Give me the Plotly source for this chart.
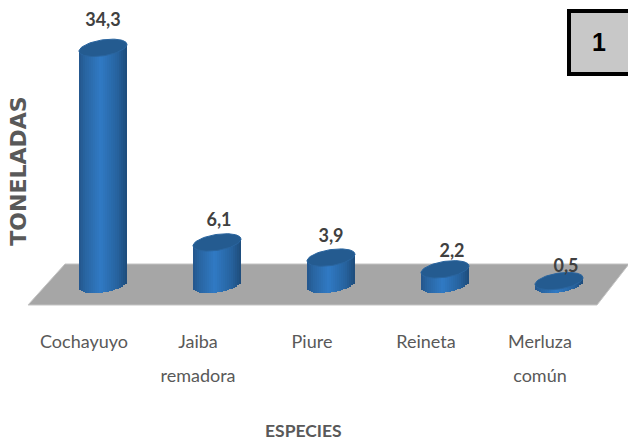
import math
import plotly.graph_objects as go

categories = ["Cochayuyo", "Jaiba<br>remadora", "Piure", "Reineta", "Merluza<br>común"]
toneladas = [34.3, 6.1, 3.9, 2.2, 0.5]
value_labels = ["34,3", "6,1", "3,9", "2,2", "0,5"]

# Layout constants (pixels)
W, H = 628, 443
M_L, M_R, M_T, M_B = 34, 0, 24, 125
X0_PX, STEP_PX = 103.0, 114.0
BASE_PX, PX_PER_UNIT = 284.5, 6.9
R_PX, RY_PX, TILT = 24.0, 8.0, 0.14
STRIP_PX = 2
TICK_SHIFT_PX = -19
LABEL_SHIFT_PX = [0, 2, 0, 7, 7]
LABEL_RAISE_PX = [17, 12, 11, 8, 5]
FONT = "Lato"

xs = list(range(len(categories)))
x_range = [(M_L - X0_PX) / STEP_PX, (W - M_R - X0_PX) / STEP_PX]
y_range = [(BASE_PX - (H - M_B)) / PX_PER_UNIT, (BASE_PX - M_T) / PX_PER_UNIT]
dx = lambda px: px / STEP_PX
dy = lambda px: px / PX_PER_UNIT
px_x = lambda px: (px - M_L) / (W - M_L - M_R)
px_y = lambda py: (H - M_B - py) / (H - M_T - M_B)


def shade(t):
    # t in 0..1 across the cylinder; dark edges, brighter left of centre
    stops = [(0, (36, 86, 140)), (0.12, (40, 100, 160)), (0.45, (48, 122, 196)),
             (0.8, (38, 98, 158)), (1, (30, 76, 122))]
    for (a, ca), (b, cb) in zip(stops, stops[1:]):
        if t <= b:
            f = (t - a) / (b - a)
            return "rgb(%d,%d,%d)" % tuple(round(p + (q - p) * f) for p, q in zip(ca, cb))
    return "rgb(30,76,122)"


fig = go.Figure()

# Cylinder bodies: narrow bars that follow the tilted lower ellipse
n = int(2 * R_PX / STRIP_PX)
for j in range(n):
    o_px = -R_PX + j * STRIP_PX
    mid = o_px + STRIP_PX / 2
    u = mid / R_PX
    half = RY_PX * math.sqrt(max(0, 1 - u * u))
    lower = dy(TILT * mid - half)
    upper = dy(TILT * mid)
    fig.add_trace(go.Bar(
        x=xs, y=[v + upper - lower for v in toneladas], base=[lower] * len(xs),
        width=dx(STRIP_PX), offset=dx(o_px),
        marker=dict(color=shade((j + 0.5) / n), line=dict(width=0)),
        cliponaxis=False, hoverinfo="skip", showlegend=False))

# Cylinder tops
for x, v in zip(xs, toneladas):
    ex, ey = [], []
    for k in range(73):
        a = 2 * math.pi * k / 72
        o = R_PX * math.cos(a)
        ex.append(x + dx(o))
        ey.append(v + dy(TILT * o + RY_PX * math.sin(a)))
    fig.add_trace(go.Scatter(
        x=ex, y=ey, mode="lines", fill="toself", fillcolor="#245b90",
        line=dict(color="#2a659f", width=1), cliponaxis=False,
        hoverinfo="skip", showlegend=False))

# Value labels
fig.add_trace(go.Scatter(
    x=[x + dx(s) for x, s in zip(xs, LABEL_SHIFT_PX)],
    y=[v + dy(r) for v, r in zip(toneladas, LABEL_RAISE_PX)],
    mode="text", text=["<b>%s</b>" % t for t in value_labels], textposition="top center",
    textfont=dict(family=FONT, size=18, color="#404040"),
    cliponaxis=False, hoverinfo="skip", showlegend=False))

floor_px = [(28, 305), (65, 264), (629, 264), (597, 305)]
floor_path = "M " + " L ".join("%.4f %.4f" % (px_x(a), px_y(b)) for a, b in floor_px) + " Z"

# A larger base font with a smaller span keeps the wide line spacing of the labels
tick_text = ["<br>".join('<span style="font-size:18px">%s</span>' % p for p in c.split("<br>"))
             for c in categories]

fig.update_layout(
    width=W, height=H, autosize=False,
    margin=dict(l=M_L, r=M_R, t=M_T, b=M_B, autoexpand=False),
    paper_bgcolor="white", plot_bgcolor="rgba(0,0,0,0)",
    barmode="overlay", bargap=0, showlegend=False,
    xaxis=dict(
        range=x_range, tickmode="array", tickvals=[x + dx(TICK_SHIFT_PX) for x in xs],
        ticktext=tick_text,
        showgrid=False, zeroline=False, showline=False,
        ticks="", ticklabelstandoff=3,
        tickfont=dict(family=FONT, size=26, color="#595959")),
    yaxis=dict(
        range=y_range, showgrid=False, zeroline=False, showline=False,
        showticklabels=False, ticks="",
        title=dict(text="<b>TONELADAS</b>", standoff=0,
                   font=dict(family="DejaVu Sans", size=22, color="#595959"))),
    shapes=[
        dict(type="path", xref="paper", yref="paper", layer="below", path=floor_path,
             fillcolor="#a6a6a6", line=dict(color="#c4c4c4", width=1)),
        dict(type="rect", xref="paper", yref="paper", layer="above",
             x0=px_x(569), x1=px_x(640), y0=px_y(74), y1=px_y(11),
             fillcolor="#c8c8c8", line=dict(color="black", width=4))],
    annotations=[
        dict(text="<b>1</b>", xref="paper", yref="paper",
             x=px_x(599), y=px_y(42),
             showarrow=False, xanchor="center", yanchor="middle",
             font=dict(family="Liberation Sans", size=25, color="black")),
        dict(text="<b>ESPECIES</b>", xref="paper", yref="paper",
             x=px_x(303), y=px_y(430),
             showarrow=False, xanchor="center", yanchor="middle",
             font=dict(family=FONT, size=17.5, color="#595959"))],
)

fig.write_html("out.html", config=dict(displayModeBar=False),
               post_script="document.body.style.margin='0';document.body.style.overflow='hidden';")
